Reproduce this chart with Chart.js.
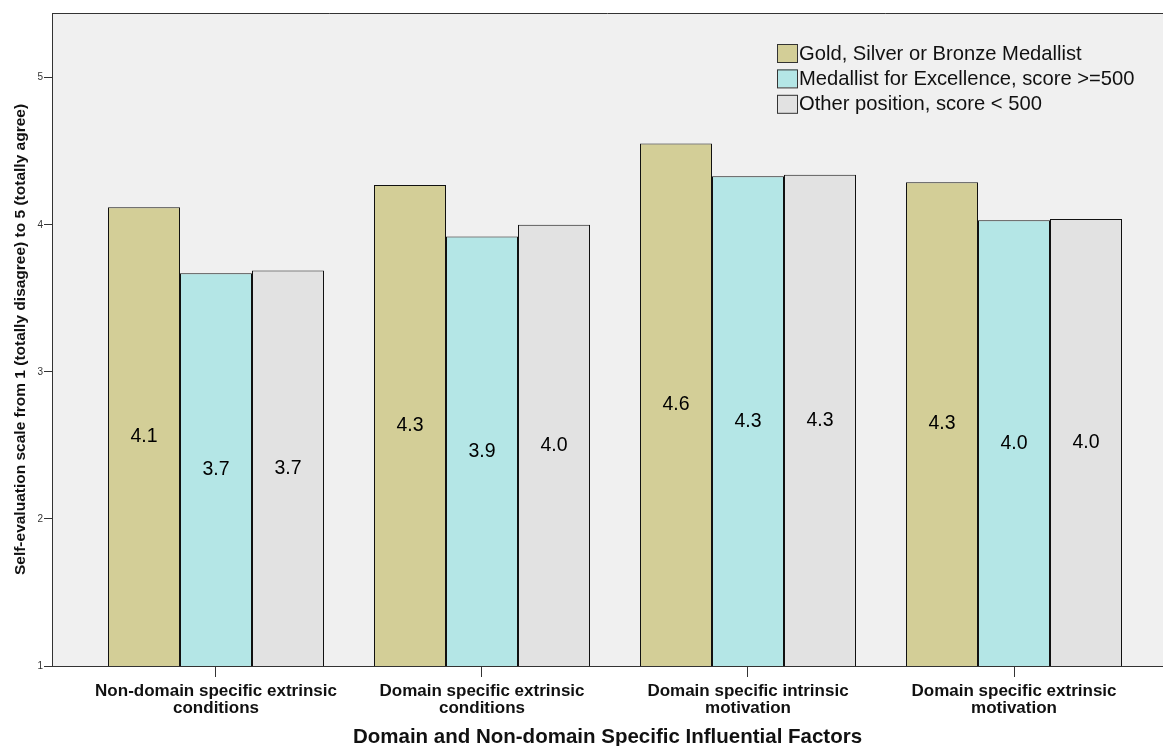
<!DOCTYPE html>
<html>
<head>
<meta charset="utf-8">
<script src="https://cdn.jsdelivr.net/npm/chart.js@4.4.1/dist/chart.umd.min.js"></script>
<style>
  html, body { margin: 0; background: #fff; }
  #wrap { width: 1163px; height: 746px; }
</style>
</head>
<body>
<div id="wrap"><canvas id="myChart"></canvas></div>
<script>
// categories (split in two lines like the original)
const categories = [
  ['Non-domain specific extrinsic', 'conditions'],
  ['Domain specific extrinsic', 'conditions'],
  ['Domain specific intrinsic', 'motivation'],
  ['Domain specific extrinsic', 'motivation']
];
const seriesNames = [
  'Gold, Silver or Bronze Medallist',
  'Medallist for Excellence, score >=500',
  'Other position, score < 500'
];
const medallist = [4.12, 4.27, 4.552, 4.29];
const excellence = [3.67, 3.92, 4.33, 4.03];
const otherPos = [3.69, 4.00, 4.34, 4.04];
const yTicks = [1, 2, 3, 4, 5];

const colors = ['#d3ce97', '#b4e6e6', '#e2e2e2'];
const FONT = "'Liberation Sans', Arial, sans-serif";

const toPoints = arr => arr.map((v, i) => ({ x: i, y: v }));

// plot background + top frame line
const plotBg = {
  id: 'plotBg',
  beforeDraw(chart) {
    const { ctx, chartArea: a } = chart;
    ctx.save();
    ctx.fillStyle = '#f0f0f0';
    ctx.fillRect(a.left, a.top, a.right - a.left, a.bottom - a.top);
    ctx.strokeStyle = '#333';
    ctx.lineWidth = 1;
    ctx.beginPath();
    ctx.moveTo(a.left, a.top + 0.5);
    ctx.lineTo(a.right, a.top + 0.5);
    ctx.stroke();
    ctx.restore();
  }
};

// value labels in the middle of every bar (between the axis floor and the top)
const barLabels = {
  id: 'barLabels',
  afterDatasetsDraw(chart) {
    const ctx = chart.ctx;
    const floor = chart.scales.y.getPixelForValue(chart.scales.y.min);
    ctx.save();
    ctx.font = '19.5px ' + FONT;
    ctx.fillStyle = '#000';
    ctx.textAlign = 'center';
    ctx.textBaseline = 'middle';
    chart.data.datasets.forEach((ds, di) => {
      chart.getDatasetMeta(di).data.forEach((el, i) => {
        ctx.fillText(ds.data[i].y.toFixed(1), el.x, (el.y + floor) / 2);
      });
    });
    ctx.restore();
  }
};

// legend inside the plot, top right
const boxLegend = {
  id: 'boxLegend',
  afterDraw(chart) {
    const { ctx, chartArea: a } = chart;
    const x0 = a.left + 725, y0 = a.top + 31;
    ctx.save();
    ctx.font = '20.2px ' + FONT;
    ctx.textBaseline = 'middle';
    chart.data.datasets.forEach((ds, i) => {
      const y = y0 + i * 25.4;
      ctx.fillStyle = ds.backgroundColor;
      ctx.fillRect(x0, y, 20, 18);
      ctx.strokeStyle = '#333';
      ctx.lineWidth = 1;
      ctx.strokeRect(x0 + 0.5, y + 0.5, 20, 18);
      ctx.fillStyle = '#111';
      ctx.fillText(ds.label, x0 + 22, y + 10);
    });
    ctx.restore();
  }
};

const ctx = document.getElementById('myChart').getContext('2d');
const myChart = new Chart(ctx, {
  type: 'bar',
  data: {
    datasets: [medallist, excellence, otherPos].map((vals, i) => ({
      label: seriesNames[i],
      data: toPoints(vals),
      backgroundColor: colors[i],
      borderColor: '#111',
      borderWidth: 1,
      inflateAmount: 0,
      barThickness: 72
    }))
  },
  options: {
    responsive: true,
    maintainAspectRatio: false,
    animation: false,
    layout: { padding: { top: 13, left: 0, right: 0, bottom: 0 } },
    plugins: {
      legend: { display: false },
      tooltip: { enabled: false }
    },
    scales: {
      x: {
        type: 'linear',
        offset: false,
        min: -0.61654,
        max: 3.56015,
        afterBuildTicks: s => { s.ticks = categories.map((c, i) => ({ value: i })); },
        afterFit: s => { s.height = 80; },
        grid: { drawOnChartArea: false, offset: false, tickLength: 11, color: '#333' },
        border: { color: '#333' },
        ticks: {
          autoSkip: false,
          maxRotation: 0,
          padding: 6,
          color: '#111',
          font: { family: FONT, size: 17, weight: 'bold', lineHeight: 1 },
          callback: v => categories[v]
        },
        title: {
          display: true,
          text: 'Domain and Non-domain Specific Influential Factors',
          color: '#111',
          font: { family: FONT, size: 20.5, weight: 'bold' },
          padding: { top: 0, bottom: -4 }
        }
      },
      y: {
        min: 1,
        max: 5.44,
        afterBuildTicks: s => { s.ticks = yTicks.map(v => ({ value: v })); },
        afterFit: s => { s.width = 52; },
        grid: { drawOnChartArea: false, tickLength: 8, color: '#333' },
        border: { color: '#333' },
        ticks: {
          padding: 1,
          color: '#333',
          font: { family: FONT, size: 10 }
        },
        title: {
          display: true,
          text: 'Self-evaluation scale from 1 (totally disagree) to 5 (totally agree)',
          color: '#111',
          font: { family: FONT, size: 15.5, weight: 'bold' },
          padding: { top: 11, bottom: 0 }
        }
      }
    }
  },
  plugins: [plotBg, barLabels, boxLegend]
});
</script>
</body>
</html>
